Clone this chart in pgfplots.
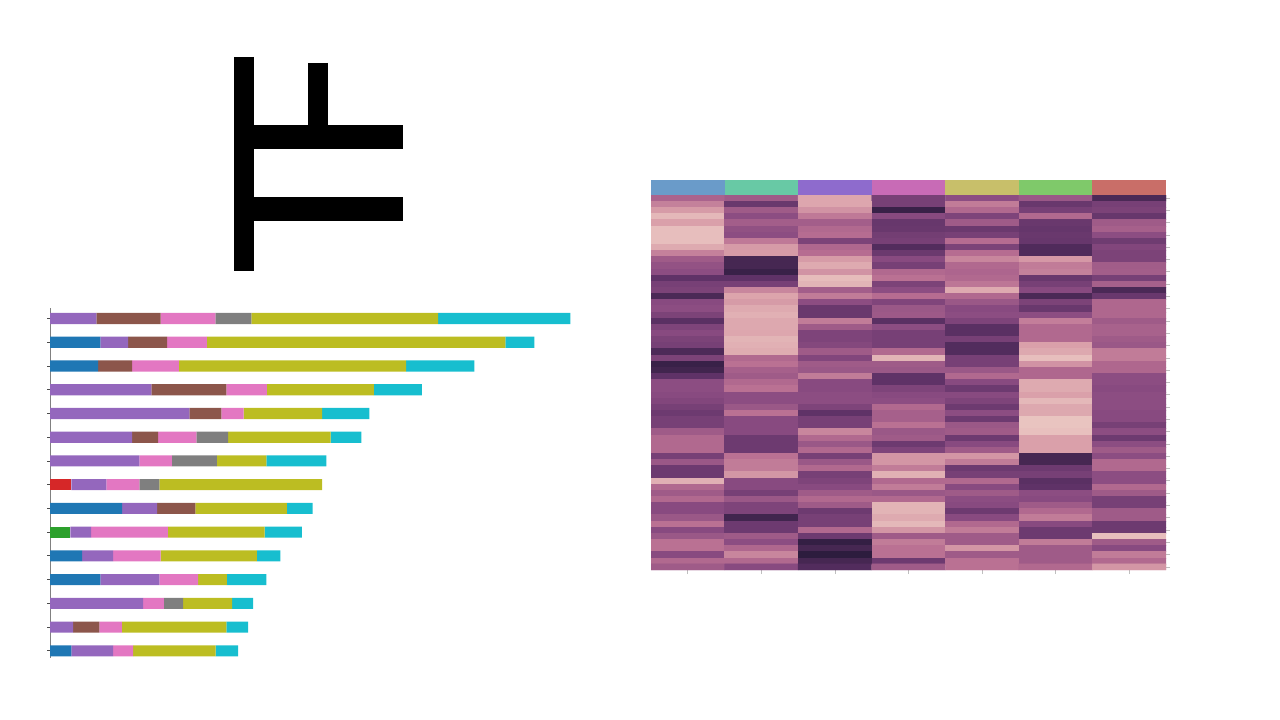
\documentclass[border=0pt]{standalone}
\usepackage{pgfplots}
\usepackage{pgfplotstable}
\pgfplotsset{compat=1.18}

% tab10 colours for the stacked bars
\definecolor{tabblue}{HTML}{1F77B4}
\definecolor{tabgreen}{HTML}{2CA02C}
\definecolor{tabred}{HTML}{D62728}
\definecolor{tabpurple}{HTML}{9467BD}
\definecolor{tabbrown}{HTML}{8C564B}
\definecolor{tabpink}{HTML}{E377C2}
\definecolor{tabgray}{HTML}{7F7F7F}
\definecolor{tabolive}{HTML}{BCBD22}
\definecolor{tabcyan}{HTML}{17BECF}
% column colours of the heatmap
\definecolor{h0}{HTML}{6A9BC9}
\definecolor{h1}{HTML}{68C9A5}
\definecolor{h2}{HTML}{8E6BCD}
\definecolor{h3}{HTML}{C86BB6}
\definecolor{h4}{HTML}{C8BF6A}
\definecolor{h5}{HTML}{7FC96A}
\definecolor{h6}{HTML}{C96E68}

% stacked bar widths, one row per bar (top to bottom)
\pgfplotstableread{
row blue green red purple brown pink gray olive cyan
0   0    0     0   46.4   64.3  54.7 36.0 186.8 132.2
1   50.4 0     0   27.8   38.9  39.7 0    298.6 28.9
2   48.2 0     0   0      33.9  46.8 0    227.2 68.2
3   0    0     0   101.4  75.0  40.4 0    107.1 47.9
4   0    0     0   139.3  32.1  22.2 0    78.5  47.2
5   0    0     0   82.1   26.1  38.2 31.8 102.5 30.7
6   0    0     0   89.3   0     32.5 45.0 49.6  60.0
7   0    0     21.4 35.0  0     32.9 20.0 162.8 0
8   72.1 0     0   35.0   38.3  0    0    91.4  25.7
9   0    20.4  0   20.7   0     76.8 0    96.7  37.2
10  32.1 0     0   31.1   0     47.5 0    96.1  23.6
11  50.4 0     0   58.9   0     38.9 0    28.6  39.6
12  0    0     0   93.2   0     20.7 19.3 48.9  21.1
13  0    0     0   23.2   26.1  22.5 0    104.6 21.8
14  21.4 0     0   41.8   0     20.0 0    82.5  22.5
}\bars

\begin{document}
\begin{tikzpicture}
\useasboundingbox (0,0) rectangle (1280pt,720pt);

% dendrogram
\begin{axis}[
    at={(234pt,449pt)}, anchor=south west,
    scale only axis, width=169pt, height=214pt,
    xmin=234, xmax=403, ymin=57, ymax=271, y dir=reverse,
    hide axis, clip=false
]
\addplot[black, mark=none, line width=20pt] coordinates {(244,57) (244,271)};
\addplot[black, mark=none, line width=20pt] coordinates {(318,63) (318,137)};
\addplot[black, mark=none, line width=24pt] coordinates {(244,137) (403,137)};
\addplot[black, mark=none, line width=24pt] coordinates {(244,209) (403,209)};
\end{axis}

% stacked horizontal bars
\begin{axis}[
    at={(50pt,62pt)}, anchor=south west,
    scale only axis, width=521pt, height=350pt,
    xbar stacked, bar width=0.47,
    xmin=0, xmax=521, ymin=-0.44, ymax=14.3, y dir=reverse,
    axis x line=none, axis y line*=left,
    y axis line style={black!50, line width=0.8pt},
    ytick={0,...,14}, yticklabels={},
    tick align=outside, major tick length=3pt,
    ytick style={black!70, line width=0.8pt},
    every axis plot/.append style={draw=none}
]
\addplot[fill=tabblue] table[x=blue, y=row] {\bars};
\addplot[fill=tabgreen] table[x=green, y=row] {\bars};
\addplot[fill=tabred] table[x=red, y=row] {\bars};
\addplot[fill=tabpurple] table[x=purple, y=row] {\bars};
\addplot[fill=tabbrown] table[x=brown, y=row] {\bars};
\addplot[fill=tabpink] table[x=pink, y=row] {\bars};
\addplot[fill=tabgray] table[x=gray, y=row] {\bars};
\addplot[fill=tabolive] table[x=olive, y=row] {\bars};
\addplot[fill=tabcyan] table[x=cyan, y=row] {\bars};
\end{axis}

% colour strip above the heatmap
\begin{axis}[
    at={(651pt,525pt)}, anchor=south west,
    scale only axis, width=515pt, height=15pt,
    xmin=-0.5, xmax=6.5, ymin=0, ymax=1,
    hide axis,
    every axis plot/.append style={ybar, bar width=1, bar shift=0pt, draw=none}
]
\addplot[fill=h0] coordinates {(0,1)};
\addplot[fill=h1] coordinates {(1,1)};
\addplot[fill=h2] coordinates {(2,1)};
\addplot[fill=h3] coordinates {(3,1)};
\addplot[fill=h4] coordinates {(4,1)};
\addplot[fill=h5] coordinates {(5,1)};
\addplot[fill=h6] coordinates {(6,1)};
\end{axis}

% heatmap, 61 rows x 7 columns, values 0 (light) .. 1 (dark)
\begin{axis}[
    at={(651pt,150pt)}, anchor=south west,
    scale only axis, width=515pt, height=375pt,
    xmin=-0.5, xmax=6.5, ymin=-0.5, ymax=60.5, y dir=reverse,
    enlargelimits=false,
    axis line style={draw=none},
    xtick={0,...,6}, xticklabels={}, xtick pos=bottom,
    ytick={0,2,...,60}, yticklabels={}, ytick pos=right,
    tick align=outside, major tick length=4pt,
    tick style={black!25, line width=0.8pt},
    colormap={cube}{rgb255=(235,200,195) rgb255=(218,160,170) rgb255=(182,108,145)
        rgb255=(136,74,128) rgb255=(95,50,103) rgb255=(45,28,62)},
    point meta min=0, point meta max=1
]
\addplot[matrix plot*, mesh/cols=7, point meta=explicit]
  table[row sep=\\, x expr={mod(\coordindex,7)}, y expr={floor((\coordindex+0.5)/7)}, meta=v] {
v\\
0.45\\ 0.5\\ 0.17\\ 0.68\\ 0.58\\ 0.52\\ 0.88\\
0.32\\ 0.75\\ 0.17\\ 0.68\\ 0.34\\ 0.75\\ 0.68\\
0.22\\ 0.5\\ 0.25\\ 0.95\\ 0.42\\ 0.68\\ 0.66\\
0.08\\ 0.58\\ 0.35\\ 0.6\\ 0.65\\ 0.42\\ 0.76\\
0.2\\ 0.48\\ 0.48\\ 0.76\\ 0.5\\ 0.75\\ 0.5\\
0.05\\ 0.56\\ 0.42\\ 0.75\\ 0.74\\ 0.77\\ 0.47\\
0.05\\ 0.58\\ 0.4\\ 0.7\\ 0.68\\ 0.75\\ 0.58\\
0.05\\ 0.35\\ 0.66\\ 0.68\\ 0.4\\ 0.76\\ 0.72\\
0.15\\ 0.22\\ 0.43\\ 0.85\\ 0.66\\ 0.86\\ 0.63\\
0.32\\ 0.22\\ 0.4\\ 0.74\\ 0.4\\ 0.86\\ 0.66\\
0.5\\ 0.9\\ 0.22\\ 0.6\\ 0.3\\ 0.23\\ 0.66\\
0.55\\ 0.9\\ 0.15\\ 0.68\\ 0.42\\ 0.34\\ 0.49\\
0.58\\ 0.95\\ 0.25\\ 0.42\\ 0.44\\ 0.32\\ 0.48\\
0.8\\ 0.8\\ 0.06\\ 0.38\\ 0.42\\ 0.75\\ 0.68\\
0.68\\ 0.68\\ 0.1\\ 0.66\\ 0.36\\ 0.68\\ 0.47\\
0.66\\ 0.3\\ 0.48\\ 0.58\\ 0.15\\ 0.6\\ 0.88\\
0.88\\ 0.18\\ 0.34\\ 0.4\\ 0.42\\ 0.88\\ 0.75\\
0.6\\ 0.22\\ 0.58\\ 0.64\\ 0.52\\ 0.66\\ 0.43\\
0.58\\ 0.15\\ 0.75\\ 0.52\\ 0.6\\ 0.75\\ 0.43\\
0.66\\ 0.12\\ 0.75\\ 0.51\\ 0.58\\ 0.58\\ 0.43\\
0.82\\ 0.16\\ 0.34\\ 0.82\\ 0.65\\ 0.33\\ 0.5\\
0.65\\ 0.16\\ 0.5\\ 0.58\\ 0.82\\ 0.42\\ 0.46\\
0.6\\ 0.17\\ 0.65\\ 0.68\\ 0.82\\ 0.42\\ 0.46\\
0.66\\ 0.1\\ 0.65\\ 0.68\\ 0.68\\ 0.42\\ 0.5\\
0.68\\ 0.12\\ 0.62\\ 0.68\\ 0.85\\ 0.2\\ 0.52\\
0.87\\ 0.14\\ 0.5\\ 0.42\\ 0.85\\ 0.16\\ 0.34\\
0.66\\ 0.42\\ 0.63\\ 0.1\\ 0.68\\ 0.05\\ 0.34\\
0.95\\ 0.38\\ 0.5\\ 0.5\\ 0.68\\ 0.25\\ 0.43\\
0.92\\ 0.47\\ 0.52\\ 0.52\\ 0.52\\ 0.43\\ 0.43\\
0.8\\ 0.5\\ 0.34\\ 0.8\\ 0.42\\ 0.43\\ 0.58\\
0.58\\ 0.42\\ 0.6\\ 0.8\\ 0.6\\ 0.15\\ 0.58\\
0.58\\ 0.38\\ 0.6\\ 0.65\\ 0.73\\ 0.15\\ 0.6\\
0.6\\ 0.58\\ 0.58\\ 0.6\\ 0.6\\ 0.2\\ 0.58\\
0.63\\ 0.58\\ 0.58\\ 0.58\\ 0.65\\ 0.08\\ 0.58\\
0.68\\ 0.52\\ 0.65\\ 0.42\\ 0.73\\ 0.16\\ 0.58\\
0.73\\ 0.38\\ 0.8\\ 0.47\\ 0.58\\ 0.16\\ 0.6\\
0.68\\ 0.6\\ 0.68\\ 0.47\\ 0.73\\ 0.02\\ 0.6\\
0.68\\ 0.6\\ 0.68\\ 0.38\\ 0.52\\ 0.02\\ 0.68\\
0.5\\ 0.6\\ 0.3\\ 0.52\\ 0.5\\ 0.04\\ 0.58\\
0.42\\ 0.73\\ 0.42\\ 0.5\\ 0.73\\ 0.2\\ 0.73\\
0.42\\ 0.73\\ 0.52\\ 0.73\\ 0.6\\ 0.2\\ 0.58\\
0.42\\ 0.73\\ 0.42\\ 0.65\\ 0.5\\ 0.2\\ 0.5\\
0.68\\ 0.38\\ 0.68\\ 0.24\\ 0.24\\ 0.9\\ 0.58\\
0.52\\ 0.34\\ 0.52\\ 0.24\\ 0.34\\ 0.9\\ 0.42\\
0.73\\ 0.34\\ 0.42\\ 0.34\\ 0.73\\ 0.73\\ 0.42\\
0.73\\ 0.24\\ 0.68\\ 0.12\\ 0.68\\ 0.68\\ 0.58\\
0.12\\ 0.6\\ 0.65\\ 0.42\\ 0.42\\ 0.82\\ 0.58\\
0.42\\ 0.6\\ 0.6\\ 0.34\\ 0.6\\ 0.8\\ 0.42\\
0.5\\ 0.68\\ 0.5\\ 0.52\\ 0.5\\ 0.58\\ 0.5\\
0.42\\ 0.52\\ 0.42\\ 0.42\\ 0.58\\ 0.6\\ 0.68\\
0.6\\ 0.65\\ 0.5\\ 0.1\\ 0.6\\ 0.5\\ 0.68\\
0.6\\ 0.65\\ 0.73\\ 0.1\\ 0.73\\ 0.42\\ 0.5\\
0.52\\ 0.92\\ 0.68\\ 0.15\\ 0.6\\ 0.34\\ 0.5\\
0.38\\ 0.73\\ 0.68\\ 0.08\\ 0.42\\ 0.6\\ 0.73\\
0.6\\ 0.73\\ 0.42\\ 0.24\\ 0.34\\ 0.73\\ 0.73\\
0.52\\ 0.5\\ 0.73\\ 0.5\\ 0.5\\ 0.73\\ 0.05\\
0.38\\ 0.58\\ 0.97\\ 0.34\\ 0.5\\ 0.34\\ 0.5\\
0.38\\ 0.43\\ 0.9\\ 0.38\\ 0.24\\ 0.5\\ 0.6\\
0.6\\ 0.3\\ 1.0\\ 0.38\\ 0.5\\ 0.5\\ 0.34\\
0.42\\ 0.42\\ 0.9\\ 0.73\\ 0.38\\ 0.5\\ 0.42\\
0.5\\ 0.6\\ 0.85\\ 0.5\\ 0.38\\ 0.42\\ 0.24\\
};
\end{axis}
\end{tikzpicture}
\end{document}
